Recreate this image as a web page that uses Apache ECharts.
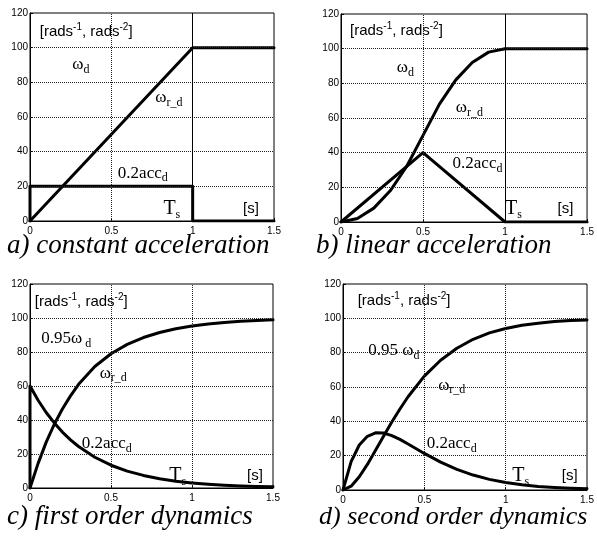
<!DOCTYPE html>
<html>
<head>
<meta charset="utf-8">
<script src="https://cdn.jsdelivr.net/npm/echarts@6/dist/echarts.min.js"></script>
<style>
html, body { margin: 0; padding: 0; background: #fff; }
#c { width: 597px; height: 539px; }
</style>
</head>
<body>
<div id="c"></div>
<script>
// Axis ranges shared by all four panels (time in s, speed / scaled acceleration)
const xRange = [0, 1.5];
const xStep = 0.5;
const yRange = [0, 120];
const yStep = 20;

// a) constant acceleration
const constSpeed = [[0, 0], [1, 100], [1.5, 100]];
const constAcc = [[0, 0], [0, 20], [1, 20], [1, 0], [1.5, 0]];

// b) linear acceleration
const linSpeed = [[0, 0], [0.1, 2], [0.2, 8], [0.3, 18], [0.4, 32], [0.5, 50], [0.6, 68],
  [0.7, 82], [0.8, 92], [0.9, 98], [1, 100], [1.5, 100]];
const linAcc = [[0, 0], [0.5, 40], [1, 0], [1.5, 0]];

// c) first order dynamics
const firstSpeed = [[0, 0], [0.05, 14.5], [0.1, 27], [0.15, 37.5], [0.2, 46.5], [0.25, 54.2],
  [0.3, 61], [0.4, 71.5], [0.5, 79], [0.6, 84.5], [0.7, 88.5], [0.8, 91.5], [0.9, 93.7],
  [1, 95.3], [1.1, 96.5], [1.2, 97.4], [1.3, 98.1], [1.4, 98.6], [1.5, 99.0]];
const firstAcc = [[0, 0], [0, 60], [0.05, 51.6], [0.1, 44.4], [0.15, 38.3], [0.2, 32.9],
  [0.25, 28.3], [0.3, 24.4], [0.4, 18.1], [0.5, 13.4], [0.6, 9.9], [0.7, 7.4], [0.8, 5.4],
  [0.9, 4.0], [1, 3.0], [1.1, 2.2], [1.2, 1.6], [1.3, 1.2], [1.4, 0.9], [1.5, 0.7]];

// d) second order dynamics
const secondSpeed = [[0, 0], [0.05, 2.2], [0.1, 7.7], [0.15, 14.9], [0.2, 23.1], [0.25, 31.4],
  [0.3, 39.6], [0.35, 47.2], [0.4, 54.3], [0.5, 66.3], [0.6, 75.6], [0.7, 82.6], [0.8, 87.8],
  [0.9, 91.5], [1, 94.1], [1.1, 96.0], [1.2, 97.2], [1.3, 98.1], [1.4, 98.7], [1.5, 99.1]];
const secondAcc = [[0, 0], [0.05, 16.5], [0.1, 26.2], [0.15, 31.3], [0.2, 33.3], [0.25, 33.2],
  [0.3, 31.7], [0.35, 29.5], [0.4, 26.8], [0.5, 21.3], [0.6, 16.2], [0.7, 12.0], [0.8, 8.7],
  [0.9, 6.2], [1, 4.4], [1.1, 3.1], [1.2, 2.1], [1.3, 1.5], [1.4, 1.0], [1.5, 0.7]];

// Settling time marker
const settleTime = 1;

// Panel captions
const captions = ['a) constant acceleration', 'b) linear acceleration',
  'c) first order dynamics', 'd) second order dynamics'];

// In-plot annotations: [t, value, rich text]
const unitsText = '{u|[rads}{sup|-1}{u|, rads}{sup|-2}{u|]}';
const notesA = [[0.06, 109, unitsText], [0.26, 90, '{w|ω}{sub|d}'], [0.77, 71, '{w|ω}{sub|r_d}'],
  [0.54, 27.5, '{s|0.2acc}{sub|d}'], [0.82, 7, '{T|T}{tsub|s}'], [1.31, 7, '{sec|[s]}']];
const notesB = [[0.055, 110, unitsText], [0.34, 89, '{w|ω}{sub|d}'], [0.70, 66, '{w|ω}{sub|r_d}'],
  [0.68, 33.5, '{s|0.2acc}{sub|d}'], [1.0, 7.5, '{T|T}{tsub|s}'], [1.32, 7.5, '{sec|[s]}']];
const notesC = [[0.03, 109.5, unitsText], [0.07, 88, '{s|0.95}{w|ω}{sub| d}'],
  [0.43, 67.5, '{w|ω}{sub|r_d}'], [0.32, 26, '{s|0.2acc}{sub|d}'],
  [0.86, 7, '{T|T}{tsub|s}'], [1.34, 7, '{sec|[s]}']];
const notesD = [[0.09, 110, unitsText], [0.155, 81, '{s|0.95 }{w|ω}{sub|d}'],
  [0.585, 61, '{w|ω}{sub|r_d}'], [0.515, 27, '{s|0.2acc}{sub|d}'],
  [1.04, 8.5, '{T|T}{tsub|s}'], [1.345, 8.5, '{sec|[s]}']];

const panels = [
  { speed: constSpeed, acc: constAcc, notes: notesA, marker: true },
  { speed: linSpeed, acc: linAcc, notes: notesB, marker: true },
  { speed: firstSpeed, acc: firstAcc, notes: notesC, marker: false },
  { speed: secondSpeed, acc: secondAcc, notes: notesD, marker: false }
];

const gridBoxes = [
  { left: 30, top: 13, width: 244, height: 208 },
  { left: 341, top: 14, width: 248, height: 208 },
  { left: 30, top: 284, width: 243, height: 204 },
  { left: 343, top: 284, width: 244, height: 206 }
];
const captionPos = [[7, 246], [316, 246], [7, 517], [319, 517]];
const captionSize = [27, 27, 27, 26];

const SANS = '"Liberation Sans", Arial, sans-serif';
const SERIF = '"Liberation Serif", "Times New Roman", serif';

const richStyles = {
  u: { fontFamily: SANS, fontSize: 15, lineHeight: 20, color: '#000' },
  sup: { fontFamily: SANS, fontSize: 10, lineHeight: 10, verticalAlign: 'top', color: '#000' },
  w: { fontFamily: SERIF, fontSize: 17, lineHeight: 22, color: '#000' },
  s: { fontFamily: SERIF, fontSize: 17, lineHeight: 22, color: '#000' },
  sub: { fontFamily: SERIF, fontSize: 12, lineHeight: 12, verticalAlign: 'bottom', color: '#000' },
  T: { fontFamily: SERIF, fontSize: 20, lineHeight: 24, color: '#000' },
  tsub: { fontFamily: SERIF, fontSize: 12, lineHeight: 12, verticalAlign: 'bottom', color: '#000' },
  sec: { fontFamily: SANS, fontSize: 15, lineHeight: 20, color: '#000' }
};

const chart = echarts.init(document.getElementById('c'), null, { renderer: 'canvas' });

// Plot frame: the grid rectangle outlines each panel, no fill
const grid = gridBoxes.map(b => Object.assign({
  show: true, borderColor: '#000', borderWidth: 1, backgroundColor: 'transparent', z: 0
}, b));

const dotted = { color: '#222', width: 1, type: 'dotted' };

const xAxis = panels.map((p, i) => ({
  type: 'value', gridIndex: i, min: xRange[0], max: xRange[1], interval: xStep, z: 1,
  axisLine: { show: true, lineStyle: { color: '#000', width: 1 } },
  axisTick: { show: true, inside: true, length: 3, lineStyle: { color: '#000' } },
  axisLabel: { color: '#000', fontFamily: SANS, fontSize: 10, margin: 5 },
  splitLine: { show: false }
}));

const yAxis = panels.map((p, i) => ({
  type: 'value', gridIndex: i, min: yRange[0], max: yRange[1], interval: yStep, z: 1,
  axisLine: { show: true, lineStyle: { color: '#000', width: 1 } },
  axisTick: { show: true, inside: true, length: 3, lineStyle: { color: '#000' } },
  axisLabel: { color: '#000', fontFamily: SANS, fontSize: 10, margin: 2 },
  splitLine: { show: false }
}));

// Dotted grid lines at every inner tick, drawn as mark lines beneath the curves
const innerX = [];
for (let v = xRange[0] + xStep; v < xRange[1] - 1e-9; v += xStep) innerX.push(v);
const innerY = [];
for (let v = yRange[0] + yStep; v < yRange[1] - 1e-9; v += yStep) innerY.push(v);

const series = [];
panels.forEach((p, i) => {
  series.push({
    type: 'line', xAxisIndex: i, yAxisIndex: i, data: [], silent: true, z: 1,
    markLine: {
      silent: true, symbol: 'none', label: { show: false }, animation: false,
      lineStyle: dotted,
      data: innerX.map(v => ({ xAxis: v })).concat(innerY.map(v => ({ yAxis: v })))
    }
  });
  const base = {
    type: 'line', xAxisIndex: i, yAxisIndex: i, showSymbol: false, silent: true,
    lineStyle: { color: '#000', width: 3, join: 'round', cap: 'round' }, z: 3
  };
  const speed = Object.assign({}, base, { data: p.speed });
  if (p.marker) {
    speed.markLine = {
      silent: true, symbol: 'none', label: { show: false },
      lineStyle: { color: '#000', width: 1, type: 'solid' },
      data: [{ xAxis: settleTime }]
    };
  }
  series.push(speed);
  series.push(Object.assign({}, base, { data: p.acc }));
});

chart.setOption({
  animation: false,
  backgroundColor: '#fff',
  grid, xAxis, yAxis, series
});

// Place annotations in data coordinates and captions under each panel
const graphic = [];
panels.forEach((p, i) => {
  p.notes.forEach(([t, v, txt]) => {
    const [px, py] = chart.convertToPixel({ gridIndex: i }, [t, v]);
    graphic.push({
      type: 'text', x: px, y: py, z: 10, silent: true,
      style: { text: txt, rich: richStyles, align: 'left', verticalAlign: 'middle', fill: '#000' }
    });
  });
});
captions.forEach((c, i) => {
  graphic.push({
    type: 'text', x: captionPos[i][0], y: captionPos[i][1], silent: true,
    style: {
      text: c, fill: '#000', align: 'left', verticalAlign: 'middle',
      font: 'italic ' + captionSize[i] + 'px ' + SERIF
    }
  });
});
chart.setOption({ graphic });
</script>
</body>
</html>
